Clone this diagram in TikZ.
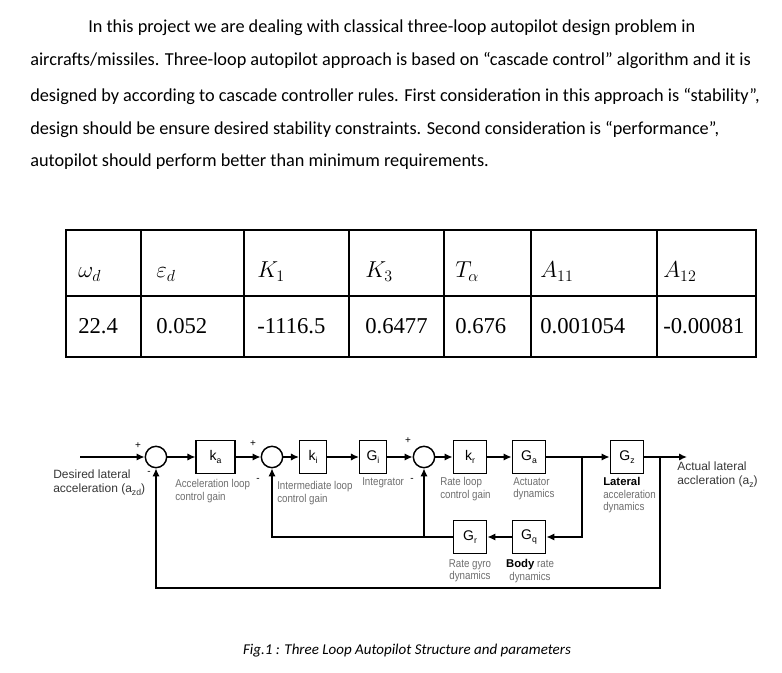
\documentclass[tikz,border=0pt]{standalone}
\usepackage{fontspec}
\setmainfont{Carlito}
\newfontfamily\tabfont{Liberation Serif}
\newfontfamily\diafont{Liberation Sans}
\newfontfamily\narrowfont[FakeStretch=0.86]{Liberation Sans}
\usetikzlibrary{arrows.meta}
\definecolor{lblgray}{RGB}{110,110,110}
\definecolor{txtdark}{RGB}{55,55,55}
\newcommand{\lowsub}[1]{\raisebox{-0.45ex}{\fontsize{6.5}{7}\selectfont #1}}

\begin{document}
\begin{tikzpicture}[x=0.75pt, y=-0.75pt, >={Latex[length=6pt,width=5.5pt]},
    para/.style={anchor=base west, inner sep=0pt, font=\fontsize{13.7}{16}\selectfont},
    cell/.style={anchor=base west, inner sep=0pt, font=\tabfont\fontsize{17}{20}\selectfont},
    blk/.style={draw, line width=1.1pt, minimum width=25pt, minimum height=24.5pt, inner sep=1pt, font=\diafont\fontsize{10.5}{12}\selectfont},
    sumnode/.style={draw, circle, line width=1.1pt, minimum size=16pt, inner sep=0pt},
    sgn/.style={inner sep=0pt, font=\diafont\fontsize{7.5}{8}\selectfont},
    note/.style={anchor=north west, align=left, inner sep=0pt, text=lblgray, font=\narrowfont\fontsize{8.5}{9.5}\selectfont},
    wire/.style={line width=1.1pt}]
    % 1. Page area
    \useasboundingbox[fill=white] (0,0) rectangle (782,673);

    % 2. Paragraph
    \node[para] (line1) at (88,33) {In this project we are dealing with classical three-loop autopilot design problem in};
    \node[para] (line2) at (30,66) {aircrafts/missiles. Three-loop autopilot approach is based on “cascade control” algorithm and it is};
    \node[para] (line3) at (30,102) {designed by according to cascade controller rules. First consideration in this approach is “stability”,};
    \node[para] (line4) at (30,135) {design should be ensure desired stability constraints. Second consideration is “performance”,};
    \node[para] (line5) at (30,167) {autopilot should perform better than minimum requirements.};

    % 3. Parameter table
    \draw[line width=1.4pt] (66,230) rectangle (756,357);
    \draw[line width=1.4pt] (66,296) -- (756,296);
    \foreach \cx in {141,244,349,444,531,657}
        \draw[line width=1.4pt] (\cx,230) -- (\cx,357);
    \foreach \cx/\txt [count=\i] in {78/{$\omega_d$}, 156/{$\varepsilon_d$}, 257/{$K_1$}, 365/{$K_3$}, 455/{$T_\alpha$}, 540/{$A_{11}$}, 663/{$A_{12}$}}
        \node[cell, font=\fontsize{18}{20}\selectfont] (h\i) at (\cx,278) {\txt};
    \foreach \cx/\txt [count=\i] in {78/22.4, 156/0.052, 257/-1116.5, 365/0.6477, 455/0.676, 540/0.001054, 663/-0.00081}
        \node[cell] (v\i) at (\cx,334) {\txt};

    % 4. Three-loop block diagram
    \node[sumnode] (s1) at (156,457) {};
    \node[blk, minimum width=29pt] (ka) at (215.5,457) {k\lowsub{a}};
    \node[sumnode] (s2) at (272,457) {};
    \node[blk, minimum width=20pt] (ki) at (313,457) {k\lowsub{i}};
    \node[blk, minimum width=20pt] (gi) at (373,457) {G\lowsub{i}};
    \node[sumnode] (s3) at (424,457) {};
    \node[blk] (kr) at (470,457) {k\lowsub{r}};
    \node[blk] (ga) at (529,457) {G\lowsub{a}};
    \node[blk] (gz) at (627,457) {G\lowsub{z}};
    \node[blk] (gq) at (529,537) {G\lowsub{q}};
    \node[blk] (gr) at (470,537) {G\lowsub{r}};

    \coordinate (in) at (80,457);
    \coordinate (j1) at (582,457);
    \coordinate (j2) at (660,457);
    \coordinate (out) at (687,457);
    \coordinate (bot) at (660,588);

    % forward path
    \draw[wire,->] (in) -- (s1);
    \draw[wire,->] (s1) -- (ka);
    \draw[wire,->] (ka) -- (s2);
    \draw[wire,->] (s2) -- (ki);
    \draw[wire,->] (ki) -- (gi);
    \draw[wire,->] (gi) -- (s3);
    \draw[wire,->] (s3) -- (kr);
    \draw[wire,->] (kr) -- (ga);
    \draw[wire,->] (ga) -- (gz);
    \draw[wire,->] (gz) -- (out);
    % feedback paths
    \draw[wire,->] (j1) |- (gq);
    \draw[wire,->] (gq) -- (gr);
    \draw[wire,->] (gr.west) -| (s2.south);
    \draw[wire,->] (gr.west -| s3.south) -- (s3.south);
    \draw[wire,->] (j2) -- (bot) -| (s1.south);

    % signs
    \node[sgn] (p1) at (138,446) {+};
    \node[sgn] (m1) at (149,473) {-};
    \node[sgn] (p2) at (253,444) {+};
    \node[sgn] (m2) at (258,480) {-};
    \node[sgn] (p3) at (408,441) {+};
    \node[sgn] (m3) at (412,480) {-};

    % labels
    \node[note, text=txtdark, font=\diafont\fontsize{9}{10}\selectfont] (desired) at (53,470) {Desired lateral\\acceleration (a\lowsub{zd})};
    \node[note] (lacc) at (175,479) {Acceleration loop\\control gain};
    \node[note] (lint) at (277,481) {Intermediate loop\\control gain};
    \node[note] (lintg) at (362,477) {Integrator};
    \node[note] (lrate) at (440,477) {Rate loop\\control gain};
    \node[note] (lact) at (513,477) {Actuator\\dynamics};
    \node[note, anchor=north, align=center] (lgyro) at (470,559) {Rate gyro\\dynamics};
    \node[note, anchor=north, align=center] (lbody) at (530,559) {{\color{black}\diafont\bfseries Body} rate\\dynamics};
    \node[note] (llat) at (603,477) {{\color{black}\diafont\bfseries Lateral}\\acceleration\\dynamics};
    \node[note, text=txtdark, font=\diafont\fontsize{9}{10}\selectfont] (actual) at (677,462) {Actual lateral\\accleration (a\lowsub{z})};

    % 5. Caption
    \node[font=\itshape\fontsize{11.25}{13}\selectfont] (cap) at (407,651) {Fig.1 : Three Loop Autopilot Structure and parameters};
\end{tikzpicture}
\end{document}
